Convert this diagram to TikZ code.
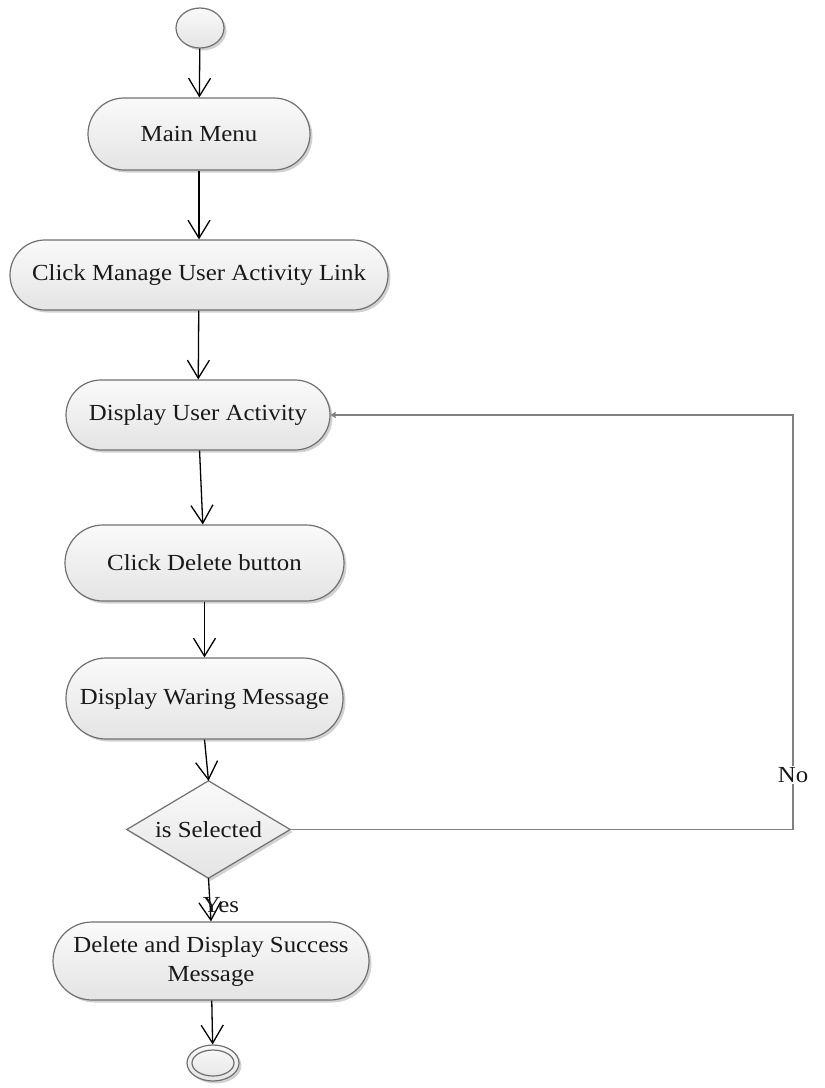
\documentclass[tikz,border=0pt]{standalone}
\usepackage{fontspec}
\setmainfont{Liberation Serif}[FakeStretch=1.08]
\usetikzlibrary{arrows.meta,shapes.geometric,shadows}
\definecolor{edgegray}{HTML}{707070}
\definecolor{flowgray}{HTML}{808080}
\definecolor{fillhi}{HTML}{FAFAFA}
\definecolor{filllo}{HTML}{E4E4E4}
\begin{document}
\begin{tikzpicture}[x=1pt,y=-1pt,
  every node/.style={font=\fontsize{23}{29}\selectfont, text=black!90},
  shapebase/.style={draw=edgegray, line width=1.2pt, top color=fillhi, bottom color=filllo,
    drop shadow={shadow xshift=2.5pt, shadow yshift=-2.5pt, opacity=0.18, fill=black}},
  activity/.style={shapebase, rectangle, rounded corners=#1, inner sep=2pt, align=center},
  flow/.style={draw=black, line width=1.3pt, -{Straight Barb[length=18pt,width=22pt,line width=1.3pt]}},
  backflow/.style={draw=flowgray, line width=1.3pt, -{Straight Barb[length=4pt,width=5pt]}},
  guard/.style={fill=white, inner sep=1pt}
]
\useasboundingbox (0,0) rectangle (825,1088);

% start point
\node[shapebase, ellipse, minimum width=48pt, minimum height=40pt, inner sep=0pt] (start) at (200,28) {};

% activities
\node[activity=36pt, minimum width=222pt, minimum height=72pt] (menu) at (199,134) {Main Menu};
\node[activity=35pt, minimum width=378pt, minimum height=70pt] (manage) at (199,275) {Click Manage User Activity Link};
\node[activity=35pt, minimum width=264pt, minimum height=70pt] (disp) at (198,415) {Display User Activity};
\node[activity=38pt, minimum width=279pt, minimum height=76pt] (delbtn) at (204.5,563) {Click Delete button};
\node[activity=40pt, minimum width=277pt, minimum height=81pt] (warn) at (204.5,698.5) {Display Waring Message};

% decision: a frame node whose anchors carry the diamond outline
\node[rectangle, minimum width=163pt, minimum height=97pt, inner sep=0pt] (sel) at (208.5,829.5) {};
\path[shapebase] (sel.north) -- (sel.east) -- (sel.south) -- (sel.west) -- cycle;
\node (seltext) at (sel) {is Selected};

\node[activity=39pt, minimum width=316pt, minimum height=78pt] (success) at (211,961) {Delete and Display Success\\Message};

% end point
\node[shapebase, ellipse, minimum width=52pt, minimum height=36pt, inner sep=0pt] (stop) at (213,1063) {};
\node[draw=edgegray, line width=1.2pt, ellipse, minimum width=42pt, minimum height=26pt, inner sep=0pt] (stopin) at (stop) {};

% main flow
\draw[flow] (start) -- (menu);
\draw[flow] (menu) -- (manage);
\draw[flow] (manage) -- (disp);
\draw[flow] (disp) -- (delbtn);
\draw[flow] (delbtn) -- (warn);
\draw[flow] (warn.south) -- (sel.north);
\draw[flow] (sel.south) -- (success.north);
\draw[flow] (success) -- (stop);

% loop back when nothing is selected
\coordinate (nocorner) at (793,829.5);
\draw[backflow] (sel.east) -- (nocorner) |- (disp.east);
\node[guard] (nolabel) at (793,775) {No};
\node (yeslabel) at (221,905) {Yes};
\end{tikzpicture}
\end{document}
